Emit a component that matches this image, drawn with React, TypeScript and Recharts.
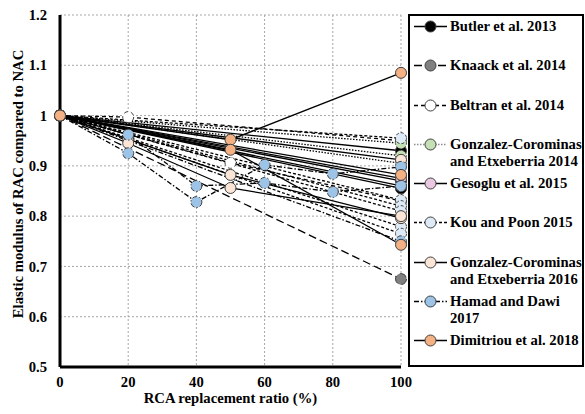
import React from "react";
import {
  LineChart,
  Line,
  XAxis,
  YAxis,
  CartesianGrid,
  Legend,
} from "recharts";

// replacement ratio (%) / relative modulus pairs, one array per mix
const butler2013 = [
  [[0, 1], [100, 0.93]],
  [[0, 1], [100, 0.87]],
  [[0, 1], [100, 0.855]],
];
const knaack2014 = [[[0, 1], [100, 0.675]]];
const beltran2014 = [
  [[0, 1], [20, 0.997], [100, 0.95]],
  [[0, 1], [50, 0.906], [100, 0.83]],
];
const gonzalez2014 = [
  [[0, 1], [100, 0.945]],
  [[0, 1], [100, 0.92]],
  [[0, 1], [100, 0.905]],
];
const gesoglu2015 = [
  [[0, 1], [100, 0.875]],
  [[0, 1], [100, 0.86]],
];
const kouPoon2015 = [
  [[0, 1], [100, 0.955]],
  [[0, 1], [100, 0.832]],
  [[0, 1], [100, 0.82]],
  [[0, 1], [100, 0.81]],
  [[0, 1], [100, 0.779]],
  [[0, 1], [100, 0.765]],
];
const gonzalez2016 = [
  [[0, 1], [20, 0.953], [50, 0.882], [100, 0.796]],
  [[0, 1], [20, 0.945], [50, 0.856], [100, 0.8]],
  [[0, 1], [100, 0.912]],
];
const hamadDawi2017 = [
  [[0, 1], [20, 0.962], [40, 0.86], [60, 0.866], [80, 0.848], [100, 0.86]],
  [[0, 1], [20, 0.925], [40, 0.828], [60, 0.902], [80, 0.884], [100, 0.898]],
  [[0, 1], [100, 0.75]],
];
const dimitriou2018 = [
  [[0, 1], [50, 0.952], [100, 1.085]],
  [[0, 1], [50, 0.932], [100, 0.743]],
  [[0, 1], [100, 0.882]],
];

const xTicks = [0, 20, 40, 60, 80, 100];
const yTicks = [0.5, 0.6, 0.7, 0.8, 0.9, 1.0, 1.1, 1.2];

const studies = [
  { name: ["Butler et al. 2013"], mixes: butler2013, fill: "#000000", dash: undefined, key: "#000" },
  { name: ["Knaack et al. 2014"], mixes: knaack2014, fill: "#7f7f7f", dash: "8 4", key: "#000" },
  { name: ["Beltran et al. 2014"], mixes: beltran2014, fill: "#ffffff", dash: "4 3", key: "#000" },
  { name: ["Gonzalez-Corominas", "and Etxeberria 2014"], mixes: gonzalez2014, fill: "#c5e0b4", dash: "1.5 1.5", key: "#8c8c8c" },
  { name: ["Gesoglu et al. 2015"], mixes: gesoglu2015, fill: "#ebc8e2", dash: undefined, key: "#000" },
  { name: ["Kou and Poon 2015"], mixes: kouPoon2015, fill: "#deebf7", dash: "3 2", key: "#000" },
  { name: ["Gonzalez-Corominas", "and Etxeberria 2016"], mixes: gonzalez2016, fill: "#fbe5d6", dash: undefined, key: "#000" },
  { name: ["Hamad and Dawi", "2017"], mixes: hamadDawi2017, fill: "#9dc3e6", dash: "5 2 1.5 2", key: "#000" },
  { name: ["Dimitriou et al. 2018"], mixes: dimitriou2018, fill: "#f4b183", dash: undefined, key: "#000" },
];

const font = "'Liberation Serif', 'Times New Roman', serif";
const tickStyle = { fontFamily: font, fontWeight: 700, fontSize: 14.67, fill: "#000" };

function LegendBox() {
  return (
    <div
      style={{
        width: 176,
        height: 353,
        border: "2px solid #000",
        boxSizing: "border-box",
        background: "#fff",
        fontFamily: font,
        fontWeight: 700,
        fontSize: 14.67,
        color: "#000",
      }}
    >
      {studies.map((s) => (
        <div key={s.name[0] + s.name.length + s.fill} style={{ height: 39.25, paddingTop: 2, boxSizing: "border-box", display: "flex" }}>
          <svg width={33} height={17} style={{ marginLeft: 4, flex: "none" }}>
            <line x1={0} x2={33} y1={8.5} y2={8.5} stroke={s.key} strokeWidth={1.3} strokeDasharray={s.dash} />
            <circle cx={16.5} cy={8.5} r={5.5} fill={s.fill} stroke="#404040" strokeWidth={1} />
          </svg>
          <div style={{ marginLeft: 3, lineHeight: "17px", whiteSpace: "nowrap" }}>
            {s.name.map((l) => (
              <div key={l}>{l}</div>
            ))}
          </div>
        </div>
      ))}
    </div>
  );
}

export default function App() {
  return (
    <div style={{ position: "absolute", left: 0, top: 0, width: 585, height: 414, background: "#fff" }}>
      <LineChart width={585} height={414} margin={{ top: 15, right: 184, bottom: 0, left: 0 }}>
        <CartesianGrid stroke="#a6a6a6" strokeDasharray="2 2" />
        <XAxis
          dataKey="x"
          type="number"
          domain={[0, 100]}
          ticks={xTicks}
          allowDuplicatedCategory={false}
          height={47}
          tickSize={0}
          tickMargin={10}
          tickLine={false}
          tick={tickStyle}
          axisLine={{ stroke: "#000", strokeWidth: 3 }}
          label={(props: any) => {
            const vb = props.viewBox;
            return (
              <text x={vb.x + vb.width / 2} y={vb.y + 31} textAnchor="middle" dominantBaseline="central" style={tickStyle}>
                RCA replacement ratio (%)
              </text>
            );
          }}
        />
        <XAxis xAxisId="top" orientation="top" type="number" domain={[0, 100]} ticks={xTicks} height={0} tick={false} tickLine={false} axisLine={{ stroke: "#000", strokeWidth: 3 }} />
        <YAxis
          type="number"
          domain={[0.5, 1.2]}
          ticks={yTicks}
          width={60}
          tickSize={0}
          tickMargin={13}
          tickLine={false}
          tick={tickStyle}
          tickFormatter={(v: number) => String(+v.toFixed(1))}
          axisLine={{ stroke: "#000", strokeWidth: 3 }}
          label={(props: any) => {
            const vb = props.viewBox;
            const cx = 18;
            const cy = vb.y + vb.height / 2 - 7;
            return (
              <text x={cx} y={cy} transform={`rotate(-90, ${cx}, ${cy})`} textAnchor="middle" dominantBaseline="central" style={tickStyle}>
                Elastic modulus of RAC compared to NAC
              </text>
            );
          }}
        />
        <YAxis yAxisId="right" orientation="right" type="number" domain={[0.5, 1.2]} ticks={yTicks} width={0} tick={false} tickLine={false} axisLine={{ stroke: "#000", strokeWidth: 3 }} />
        {studies.flatMap((s, si) =>
          s.mixes.map((mix, mi) => (
            <Line
              key={`${si}-${mi}`}
              data={mix.map(([x, y]) => ({ x, y }))}
              dataKey="y"
              type="linear"
              stroke="#000"
              strokeWidth={1.3}
              strokeDasharray={s.dash}
              dot={{ r: 5.5, fill: s.fill, stroke: "#404040", strokeWidth: 1, fillOpacity: 1 }}
              activeDot={false}
              legendType="none"
              isAnimationActive={false}
            />
          ))
        )}
        <Legend
          layout="horizontal"
          verticalAlign="middle"
          align="center"
          content={() => <LegendBox />}
          wrapperStyle={{ position: "absolute", left: 408, top: 14, width: 176, height: 353, margin: 0 }}
        />
      </LineChart>
    </div>
  );
}
